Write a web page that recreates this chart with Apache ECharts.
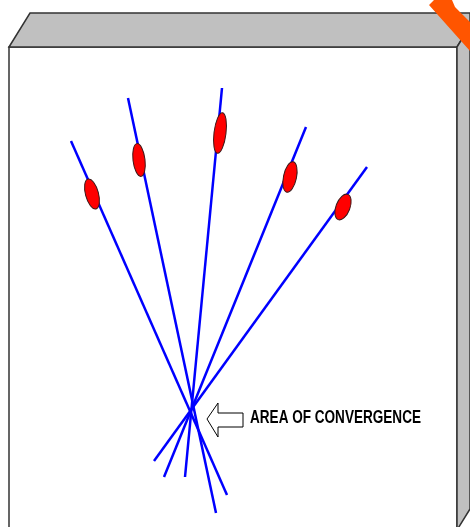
<!DOCTYPE html>
<html><head><meta charset="utf-8">
<script src="https://cdn.jsdelivr.net/npm/echarts@6/dist/echarts.min.js"></script>
<style>html,body{margin:0;padding:0;background:#fff}#c{width:470px;height:527px}</style>
</head><body><div id="c"></div>
<script>
// Ray end points (pixel-space data coordinates)
const rayStartX = [71, 128, 222, 306, 367];
const rayStartY = [141, 98, 88, 127, 167];
const rayEndX = [227, 216, 185, 164, 154];
const rayEndY = [495, 513, 477, 477, 461];
// Red markers on the rays
const markerX = [92, 139, 220, 290, 343];
const markerY = [194, 160, 133, 177, 207];
const markerLen = [31, 33, 41, 31, 27];
const markerWid = [13, 12, 12, 13, 14];
const markerTilt = [15, 7, -7, -12, -21];
// Annotation
const labelText = 'AREA OF CONVERGENCE';

const chart = echarts.init(document.getElementById('c'), null, {renderer: 'canvas'});

function measure(txt, font) {
  const cv = document.createElement('canvas').getContext('2d');
  cv.font = font;
  return cv.measureText(txt).width;
}
const labelFont = 'bold 19px "Liberation Sans", Arial, sans-serif';
const labelW = measure(labelText, labelFont);
const labelScale = 171 / labelW;

const series = [];
rayStartX.forEach((x, i) => {
  series.push({
    type: 'line', silent: true, symbol: 'none', animation: false, z: 3,
    lineStyle: {color: '#0000ff', width: 2.5},
    data: [[rayStartX[i], rayStartY[i]], [rayEndX[i], rayEndY[i]]]
  });
});
series.push({
  type: 'custom', z: 4, animation: false, silent: true,
  data: markerX.map((x, i) => [x, markerY[i], markerLen[i], markerWid[i], markerTilt[i]]),
  renderItem: function (params, api) {
    const p = api.coord([api.value(0), api.value(1)]);
    return {
      type: 'ellipse', x: p[0], y: p[1], rotation: api.value(4) * Math.PI / 180,
      shape: {cx: 0, cy: 0, rx: api.value(3) / 2, ry: api.value(2) / 2},
      style: {fill: '#ff0000', stroke: '#3a1a1a', lineWidth: 1}
    };
  }
});

chart.setOption({
  animation: false,
  grid: {left: 0, right: 0, top: 0, bottom: 0},
  xAxis: {type: 'value', min: 0, max: 470, show: false},
  yAxis: {type: 'value', min: 0, max: 527, inverse: true, show: false},
  graphic: [
    // front face
    {type: 'rect', z: 1, shape: {x: 9, y: 47, width: 448, height: 500},
     style: {fill: '#fff', stroke: '#333', lineWidth: 1.5}},
    // top face
    {type: 'polygon', z: 1, shape: {points: [[9, 47], [30, 13], [470, 13], [470, 26], [457, 47]]},
     style: {fill: '#c0c0c0', stroke: '#333', lineWidth: 1.5}},
    // right face
    {type: 'polygon', z: 1, shape: {points: [[457, 47], [470, 26], [470, 509], [457, 530]]},
     style: {fill: '#c0c0c0', stroke: '#333', lineWidth: 1.5}},
    // orange corner stripe
    {type: 'polygon', z: 2, shape: {points: [[429, 5], [434, 0], [452, 0], [455, 7], [470, 22], [470, 51]]},
     style: {fill: '#ff5500'}},
    // hollow arrow
    {type: 'polygon', z: 5, shape: {points: [[207, 419], [218, 403], [218, 413], [243, 413], [243, 427], [218, 427], [218, 437]]},
     style: {fill: '#fff', stroke: '#000', lineWidth: 1}},
    // label
    {type: 'text', z: 5, x: 250, y: 418, scaleX: labelScale, scaleY: 1,
     style: {text: labelText, font: labelFont, fill: '#000', textVerticalAlign: 'middle', verticalAlign: 'middle'}}
  ],
  series: series
});
</script></body></html>
